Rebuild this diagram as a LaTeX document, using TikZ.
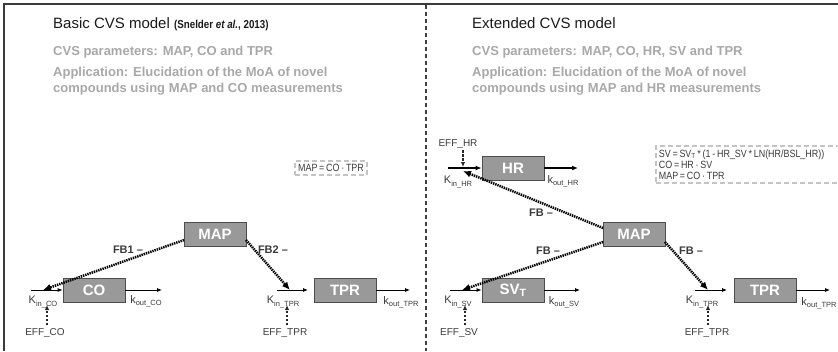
\documentclass[tikz,border=0pt]{standalone}
\usepackage{fontspec}
\setmainfont{Liberation Sans}
\newfontfamily\narrowfont[FakeStretch=0.85]{Liberation Sans}
\usetikzlibrary{arrows.meta}
\definecolor{boxfill}{HTML}{999999}
\definecolor{boxline}{HTML}{4D4D4D}
\definecolor{greytext}{HTML}{A8A8A8}
\definecolor{darktext}{HTML}{1A1A1A}
\definecolor{labeltext}{HTML}{3A3A3A}
\definecolor{eqdash}{HTML}{C4C4C4}
\definecolor{framecol}{HTML}{3A3A3A}
\newcommand{\ksb}[2]{#1\raisebox{-2.2pt}{\fontsize{7.5}{7.5}\selectfont #2}}
\tikzset{
  blk/.style={draw=boxline, fill=boxfill, line width=0.8pt, minimum width=62pt, minimum height=24pt, inner sep=0pt, font=\bfseries\fontsize{15}{15}\selectfont, text=white},
  fbarrow/.style={draw=black, line width=2.5pt, dash pattern=on 1.4pt off 0.9pt, -{Latex[length=8pt,width=7pt]}},
  flow/.style={draw=black, line width=0.8pt, -{Latex[length=5pt,width=4pt]}},
  thickflow/.style={draw=black, line width=1.6pt, -{Latex[length=6pt,width=5pt]}},
  effarrow/.style={draw=black!85, line width=1.2pt, dash pattern=on 2.5pt off 1.5pt, -{Latex[length=5pt,width=4.5pt]}},
  klab/.style={inner sep=0pt, text=labeltext, font=\fontsize{11}{11}\selectfont},
  efflab/.style={inner sep=0pt, text=labeltext, font=\fontsize{10}{10}\selectfont},
  fblab/.style={inner sep=0pt, text=labeltext, font=\bfseries\fontsize{11}{11}\selectfont},
  title/.style={anchor=base west, inner sep=0pt, text=darktext, font=\fontsize{15}{15}\selectfont},
  greyline/.style={anchor=base west, inner sep=0pt, text=greytext, font=\bfseries\fontsize{13}{13}\selectfont},
  eqbox/.style={draw=eqdash, line width=1.8pt, dash pattern=on 5pt off 3pt, inner xsep=3pt, inner ysep=3.5pt, text=labeltext, font=\narrowfont\fontsize{10.5}{11}\selectfont, align=left}
}
\begin{document}
\begin{tikzpicture}[x=1pt,y=-1pt]
\clip (0,0) rectangle (838,351);
\useasboundingbox (0,0) rectangle (838,351);
% frame and divider
\draw[framecol, line width=2pt] (4,351) -- (4,4) -- (838,4);
\draw[black!75, line width=1.2pt, dash pattern=on 4pt off 3pt] (426,5) -- (426,351);

% ---------- left panel texts ----------
\node[title] (t1) at (53,28) {Basic CVS model {\narrowfont\bfseries\fontsize{11.5}{11.5}\selectfont (Snelder \textit{et al.}, 2013)}};
\node[greyline] (p1) at (53,55) {CVS parameters: MAP, CO and TPR};
\node[greyline] (a1) at (53,76) {Application: Elucidation of the MoA of novel};
\node[greyline] (b1) at (53,92) {compounds using MAP and CO measurements};

% ---------- right panel texts ----------
\node[title] (t2) at (472,28) {Extended CVS model};
\node[greyline] (p2) at (472,55) {CVS parameters: MAP, CO, HR, SV and TPR};
\node[greyline] (a2) at (472,76) {Application: Elucidation of the MoA of novel};
\node[greyline] (b2) at (472,92) {compounds using MAP and HR measurements};

% ---------- left diagram ----------
\node[eqbox] (eq1) at (331,168) {MAP\,=\,CO\,·\,TPR};
\node[blk] (map1) at (215,234) {MAP};
\node[blk] (co) at (94,290) {CO};
\node[blk] (tpr1) at (345,290) {TPR};

\coordinate (kinco0) at (31,290);
\coordinate (fbco) at (43,290);
\coordinate (koutco) at (162,290);
\coordinate (effco0) at (47,325);
\coordinate (effco1) at (47,305);
\coordinate (map1a) at (184,240);
\coordinate (map1b) at (246,240);
\coordinate (kintpr0) at (277,290);
\coordinate (kintpr1) at (308,290);
\coordinate (fbtpr) at (290,290);
\coordinate (efftpr0) at (287,325);
\coordinate (efftpr1) at (287,305);
\coordinate (kouttpr) at (410,290);

\draw[flow] (kinco0) -- (co.west);
\draw[flow] (co.east) -- (koutco);
\draw[fbarrow] (map1a) -- (fbco);
\draw[flow] (kintpr0) -- (kintpr1);
\draw[flow] (tpr1.east) -- (kouttpr);
\draw[fbarrow] (map1b) -- (fbtpr);

\node[klab] (lkinco) at (43,302) {\ksb{K}{in\_CO}};
\node[klab] (lkoutco) at (146,301) {\ksb{k}{out\_CO}};
\node[efflab] (leffco) at (45,333) {EFF\_CO};
\node[fblab] (lfb1) at (128,250) {FB1 –};
\node[fblab] (lfb2) at (273,250) {FB2 –};
\node[klab] (lkintpr) at (283,302) {\ksb{K}{in\_TPR}};
\node[klab] (lkouttpr) at (401,302) {\ksb{k}{out\_TPR}};
\node[efflab] (lefftpr) at (285,333) {EFF\_TPR};
\draw[effarrow] (effco0) -- (effco1);
\draw[effarrow] (efftpr0) -- (efftpr1);

% ---------- right diagram ----------
\node[eqbox, anchor=north west, text width=200pt] (eq2) at (655,145) {SV\,=\,SV\textsubscript{T}\,*\,(1\,-\,HR\_SV\,*\,LN(HR/BSL\_HR))\\CO\,=\,HR\,·\,SV\\MAP\,=\,CO\,·\,TPR};
\node[blk] (hr) at (513,168) {HR};
\node[blk] (map2) at (634,234) {MAP};
\node[blk] (sv) at (513,290) {SV\textsubscript{T}};
\node[blk] (tpr2) at (765,290) {TPR};

\coordinate (kinhr0) at (448,168);
\coordinate (fbhr) at (463,171);
\coordinate (kouthr) at (578,168);
\coordinate (effhr0) at (463,150);
\coordinate (effhr1) at (463,167);
\coordinate (map2a) at (603,228);
\coordinate (map2b) at (603,242);
\coordinate (map2c) at (665,242);
\coordinate (kinsv0) at (450,290);
\coordinate (fbsv) at (462,290);
\coordinate (koutsv) at (580,290);
\coordinate (effsv0) at (465,325);
\coordinate (effsv1) at (465,305);
\coordinate (kintprb0) at (695,290);
\coordinate (kintprb1) at (727,290);
\coordinate (fbtprb) at (708,290);
\coordinate (efftprb0) at (708,325);
\coordinate (efftprb1) at (708,305);
\coordinate (kouttprb) at (830,290);

\draw[thickflow] (kinhr0) -- (hr.west);
\draw[thickflow] (hr.east) -- (kouthr);
\draw[fbarrow] (map2a) -- (fbhr);
\draw[effarrow] (effhr0) -- (effhr1);
\draw[flow] (kinsv0) -- (sv.west);
\draw[flow] (sv.east) -- (koutsv);
\draw[fbarrow] (map2b) -- (fbsv);
\draw[flow] (kintprb0) -- (kintprb1);
\draw[flow] (tpr2.east) -- (kouttprb);
\draw[fbarrow] (map2c) -- (fbtprb);

\node[efflab] (leffhr) at (458,144) {EFF\_HR};
\node[klab] (lkinhr) at (458,182) {\ksb{K}{in\_HR}};
\node[klab] (lkouthr) at (563,181) {\ksb{k}{out\_HR}};
\node[fblab] (lfb3) at (541,213) {FB –};
\node[fblab] (lfb4) at (548,251) {FB –};
\node[fblab] (lfb5) at (691,251) {FB –};
\node[klab] (lkinsv) at (458,302) {\ksb{K}{in\_SV}};
\node[klab] (lkoutsv) at (564,302) {\ksb{k}{out\_SV}};
\node[efflab] (leffsv) at (459,333) {EFF\_SV};
\node[klab] (lkintprb) at (702,302) {\ksb{K}{in\_TPR}};
\node[klab] (lkouttprb) at (819,303) {\ksb{k}{out\_TPR}};
\node[efflab] (lefftprb) at (707,333) {EFF\_TPR};
\draw[effarrow] (effsv0) -- (effsv1);
\draw[effarrow] (efftprb0) -- (efftprb1);
\end{tikzpicture}
\end{document}
